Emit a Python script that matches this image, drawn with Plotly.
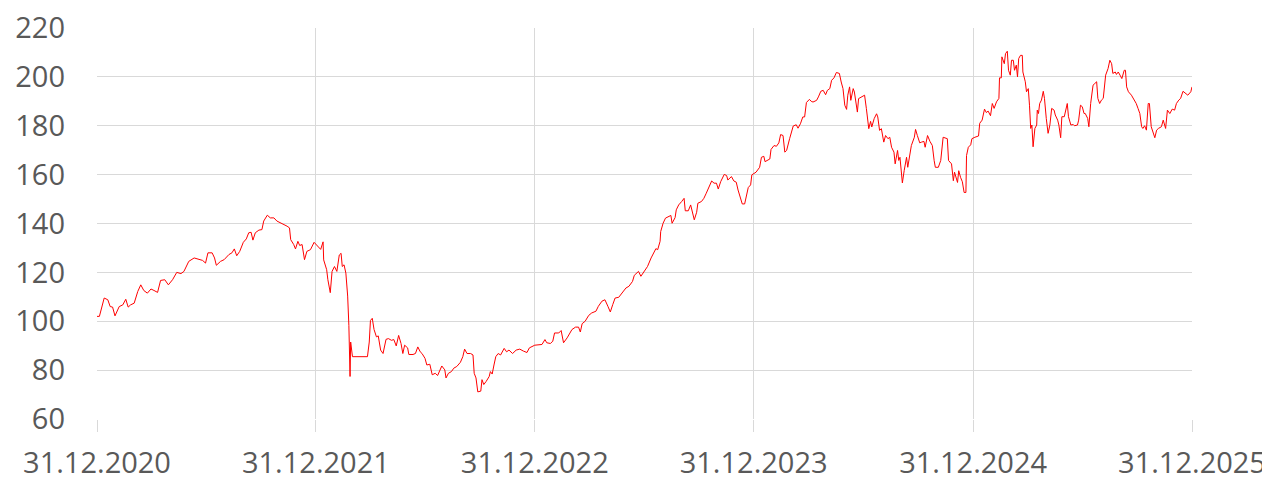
import pandas as pd
import plotly.graph_objects as go

START = "2020-12-31"

# days since 31.12.2020
days = [
    0, 4, 12, 18, 22, 26, 30, 37, 43, 48, 52, 56, 62, 68, 73, 78, 84, 90, 95, 101,
    106, 113, 119, 126, 133, 140, 145, 153, 162, 170, 176, 181, 185, 192, 196, 199,
    206, 212, 220, 225, 229, 233, 238, 244, 249, 253, 257, 260, 264, 270, 275, 278,
    284, 289, 295, 300, 306, 311, 317, 321, 323, 328, 331, 335, 338, 342, 346, 350,
    356, 362,
    367, 373, 377, 378, 383, 385, 389, 392, 396, 400, 404, 407, 409, 412, 415, 418,
    420, 422, 423, 426, 451, 454, 456, 459, 462, 466, 469, 473, 477, 480, 482, 486,
    491, 495, 499, 503, 507, 510, 513, 518, 520, 527, 531, 535, 539, 542, 547, 550,
    555, 559, 564, 568, 572, 575, 580, 582, 586, 591, 595, 600, 606, 610, 613, 617,
    623, 627, 629, 632, 635, 640, 642, 645, 649, 654, 656, 659, 662, 665, 669, 673,
    679, 683, 687, 693, 699, 705, 711, 717, 721, 727,
    730, 742, 747, 750, 756, 760, 763, 770, 774, 778, 784, 792, 798, 803, 806, 809,
    814, 820, 825, 832, 836, 842, 847, 852, 856, 860, 864, 870, 875, 882, 887, 893,
    896, 903, 907, 913, 918, 924, 928, 932, 935, 939, 940, 944, 948, 953, 957, 959,
    964, 966, 970, 975, 979, 981, 986, 990, 994, 996, 1000, 1002, 1008, 1012, 1016,
    1020, 1025, 1029, 1033, 1036, 1040, 1046, 1050, 1052, 1058, 1062, 1066, 1069,
    1073, 1076, 1080, 1083, 1086, 1090, 1092,
    1099, 1105, 1108, 1112, 1114, 1122, 1124, 1129, 1133, 1137, 1140, 1144, 1147,
    1150, 1155, 1161, 1166, 1169, 1173, 1177, 1180, 1183, 1188, 1191, 1194, 1200,
    1203, 1207, 1211, 1215, 1218, 1222, 1225, 1229, 1233, 1238, 1241, 1244, 1247,
    1250, 1252, 1255, 1257, 1261, 1263, 1266, 1268, 1270, 1274, 1277, 1280, 1283,
    1287, 1290, 1292, 1296, 1300, 1302, 1305, 1308, 1312, 1315, 1319, 1322, 1325,
    1329, 1331, 1335, 1337, 1339, 1343, 1346, 1350, 1352, 1355, 1358, 1363, 1365,
    1368, 1372, 1375, 1379, 1381, 1385, 1389, 1393, 1396, 1398, 1403, 1407, 1411,
    1415, 1418, 1420, 1425, 1428, 1430, 1435, 1437, 1440, 1443, 1446, 1449, 1450,
    1453, 1457, 1459, 1464, 1470,
    1472, 1476, 1480, 1483, 1486, 1490, 1493, 1496, 1500, 1504, 1505, 1508, 1509,
    1513, 1515, 1518, 1520, 1523, 1525, 1528, 1530, 1533, 1535, 1537, 1540, 1543,
    1544, 1548, 1550, 1553, 1555, 1557, 1559, 1561, 1564, 1567, 1568, 1570, 1572,
    1575, 1578, 1580, 1583, 1586, 1589, 1592, 1596, 1598, 1602, 1604, 1607, 1609,
    1613, 1615, 1618, 1620, 1624, 1628, 1630, 1635, 1637, 1640, 1643, 1646, 1648,
    1652, 1654, 1657, 1661, 1664, 1667, 1669, 1672, 1675, 1678, 1682, 1686, 1689,
    1692, 1694, 1698, 1700, 1703, 1706, 1709, 1713, 1715, 1717, 1720, 1725, 1728,
    1730, 1733, 1736, 1739, 1742, 1744, 1747, 1750, 1753, 1755, 1758, 1761, 1764,
    1767, 1770, 1775, 1778, 1782, 1785, 1789, 1793, 1797, 1800, 1804, 1807, 1811,
    1815, 1819, 1824, 1826,
]

values = [
    102, 102, 109.5, 108.8, 106, 105.8, 102.2, 106, 106.7, 109, 105.8, 106.7, 107.4,
    112.2, 114.9, 112.6, 111.5, 113.2, 112.6, 111.8, 116.7, 117, 114.9, 117, 120,
    119.5, 120.4, 124.5, 125.9, 125.5, 124.9, 123.8, 128, 128, 125.9, 122.9, 124.5,
    125.2, 127.3, 128, 129.6, 126.8, 128.6, 132.3, 133.7, 136.2, 136.4, 133.2, 136.2,
    137.3, 137.5, 141, 143.4, 142.3, 142.3, 141, 140.3, 139.6, 138.9, 138.2, 133.4,
    131.4, 129.6, 132.7, 131, 131.4, 125.2, 128.6, 129.3, 132.3,
    131.1, 129.4, 132.5, 125.1, 121.1, 117, 111.7, 120.4, 122.4, 120.4, 127.1, 127.8,
    122.4, 123.1, 119.7, 110.3, 98.3, 77.4, 91.5, 85.5, 85.5, 91.5, 100.3, 101.2,
    96.6, 93.6, 94, 88.2, 86.8, 89.9, 92.6, 92.9, 92.2, 92.5, 89.9, 94.2, 90.9, 86.8,
    90.2, 89.1, 86.4, 86.4, 86.8, 89.5, 87.5, 86.8, 84.8, 82.1, 82.4, 78.1, 78.7,
    77.8, 80.1, 81.7, 80.1, 76.8, 78.7, 79.4, 80.8, 81.5, 83.2, 85.5, 88.6, 86.8,
    86.8, 86.2, 78.7, 76.8, 71.1, 71.4, 76.1, 74.1, 75.4, 77.4, 79.4, 78.4, 82.1,
    85.5, 86.8, 86.2, 88.9, 87.5, 88.2, 86.8, 88.2, 88.6, 87.8, 87.2, 89.1, 89.9,
    90.2, 90.5, 92.5, 91.2, 90.9, 91.8, 95.2, 95.2, 96.2, 91.2, 93.2, 96.6, 97.6,
    97.6, 95.6, 99, 100, 102.4, 103.4, 104.1, 106.1, 108.2, 108.8, 106.1, 103.8,
    106.8, 109.5, 109.8, 111.6, 113.6, 114.3, 116.3, 118.8, 120.4, 118.4, 120.4,
    122.4, 125.9, 127.9, 129.7, 129.3, 132.7, 136.7, 140.1, 142.2, 142.9, 143.3,
    140.1, 142.4, 145.6, 147.6, 149, 150.3, 145.2, 145.2, 147.6, 144.2, 141.5, 144.6,
    148.3, 149, 150.3, 152.4, 154.4, 157.4, 156.5, 156.5, 154.1, 157.1, 160.1, 159.6,
    157.8, 159.2, 157.4, 156.9, 153.7, 150.3, 148, 148, 151.4, 154.7, 155.8, 159.9,
    161, 163, 167.1, 167.5, 165.3, 166.4, 170.3, 171.9, 171.6, 173, 176.4, 176,
    169.2, 169.9, 174.7, 179.9, 180.4, 179, 180.8, 183.6, 183.6, 189.5, 190.8, 190,
    189.7, 190.4, 191.8, 194.1, 194.5, 192.7, 194.5, 195.2, 198.6, 199.6, 201.8,
    201.4, 197.9, 195.2, 188.4, 186.7, 192.5, 195.9, 190.4, 195.2, 193.8, 189.7,
    185.6, 191.1, 191.8, 192.2, 192.5, 187, 178.8, 181.8, 179.5, 182.9, 184.9, 183.6,
    178.1, 178.8, 173.3, 176, 174.7, 175.3, 171.2, 169.2, 164.4, 169.9, 165.8, 167.1,
    156.6, 161.6, 167.1, 163, 167.8, 171.9, 175.3, 178.5, 176, 173, 173.3, 173.6,
    171.2, 176, 173.6, 171.9, 165.8, 163, 163, 165.8, 175.3, 174.9, 174.7, 165.8,
    164.4, 157.5, 161, 156.8, 161.6, 158.9, 157.1, 152.7, 152.7, 167.8, 171.2, 172.2,
    174.7, 175.3, 175.8,
    181, 182.3, 186.8, 185.4, 186, 184.1, 189.1, 187.1, 189.8, 191.2, 199.6, 199.6,
    208.2, 205.4, 209.5, 210.5, 202.7, 200.7, 206.8, 206.8, 202.7, 204.8, 200, 207.5,
    208.8, 208.8, 202, 198, 193.9, 195.2, 188.4, 178.9, 180.3, 171.4, 178.9, 180.3,
    186.4, 185, 189.1, 190.5, 194.1, 191.2, 183, 176.9, 180.3, 187.1, 186.4, 184.4,
    182.3, 180.3, 175.1, 183.7, 183.7, 186.4, 189.1, 183.7, 180.3, 180.5, 180, 180.3,
    182.3, 188.4, 187.8, 185, 185, 183, 179.6, 189.1, 196.6, 197.3, 198, 191.2,
    189.1, 190.5, 191.2, 200.7, 203.4, 206.8, 205.4, 201.4, 202, 201, 202, 200.7,
    199.3, 202.7, 202.7, 195.9, 193.9, 192.5, 191.2, 190.5, 189.1, 187.1, 185,
    179.6, 178.9, 180, 178.2, 189.1, 189.1, 179.6, 176.9, 175.1, 178.2, 178.9, 179.6,
    182.3, 178.9, 186.4, 185, 186.8, 186.4, 189.1, 190.5, 191.2, 194.1, 193.2, 192.5,
    193.9, 195.9,
]

tick_dates = ["2020-12-31", "2021-12-31", "2022-12-31", "2023-12-31", "2024-12-31", "2025-12-31"]
y_ticks = [60, 80, 100, 120, 140, 160, 180, 200, 220]

dates = pd.Timestamp(START) + pd.to_timedelta(days, unit="D")

GRID = "#d9d9d9"
TEXT = "#595959"

fig = go.Figure(go.Scatter(
    x=dates, y=values, mode="lines",
    line=dict(color="#ff0000", width=1),
    hoverinfo="skip",
))

# the page body adds an 8px margin, so the figure is sized to fit inside the window
fig.update_layout(
    width=1262, height=474,
    margin=dict(l=89, r=78, t=20, b=63),
    plot_bgcolor="white", paper_bgcolor="white",
    showlegend=False,
    font=dict(family="Open Sans, sans-serif", size=29, color=TEXT),
)
fig.update_xaxes(
    range=[tick_dates[0], tick_dates[-1]],
    tickvals=tick_dates, tickformat="%d.%m.%Y",
    showgrid=True, gridcolor=GRID, gridwidth=1,
    ticks="outside", ticklen=12, tickcolor=GRID,
    ticklabelstandoff=6, ticklabeloverflow="allow",
    zeroline=False, showline=False, automargin=False,
)
fig.update_yaxes(
    range=[60, 220], tickvals=y_ticks,
    showgrid=True, gridcolor=GRID, gridwidth=1,
    ticks="", ticklabelstandoff=31, ticklabeloverflow="allow",
    zeroline=False, showline=False, automargin=False,
)

fig.write_html("out.html")
